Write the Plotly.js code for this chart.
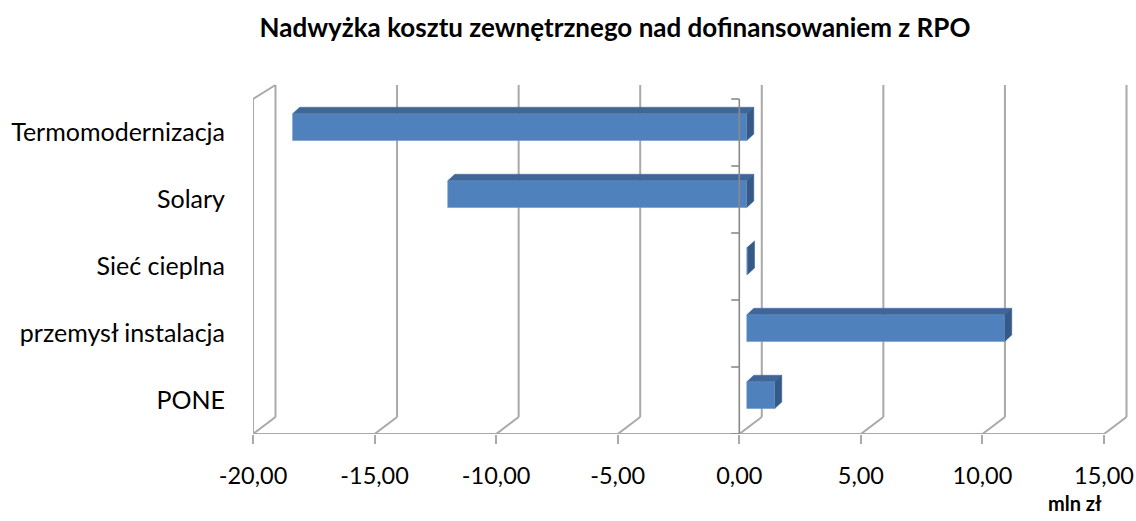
<!DOCTYPE html>
<html>
<head>
<meta charset="utf-8">
<script src="https://cdn.plot.ly/plotly-3.0.1.min.js"></script>
<style>html,body{margin:0;padding:0;background:#fff;}#chart{width:1136px;height:521px;}</style>
</head>
<body>
<div id="chart"></div>
<script>
// ---- data ----
const categories = ['Termomodernizacja', 'Solary', 'Sieć cieplna', 'przemysł instalacja', 'PONE'];
const values = [-18.68, -12.3, 0.03, 10.61, 1.15];
const tickValues = [-20, -15, -10, -5, 0, 5, 10, 15];
const tickLabels = ['-20,00', '-15,00', '-10,00', '-5,00', '0,00', '5,00', '10,00', '15,00'];
const chartTitle = 'Nadwyżka kosztu zewnętrznego nad dofinansowaniem z RPO';
const axisUnit = 'mln zł';

// ---- geometry / style ----
const W = 1136, H = 521;
const M = {l: 253, r: 6, t: 80, b: 87};
const FONT = 'Lato, "Open Sans", sans-serif';
const xMin = tickValues[0], xMaxTick = tickValues[tickValues.length - 1];
const frontRightPx = 1104;
const pxPerUnit = (frontRightPx - M.l) / (xMaxTick - xMin);
const plotW = W - M.l - M.r, plotH = H - M.t - M.b;
const xMax = xMin + plotW / pxPerUnit;
const nCat = categories.length;
const catPx = 67;
const yBottom = nCat - 0.5;
const yTopRange = yBottom - plotH / catPx;
const px2x = p => p / pxPerUnit;
const px2y = p => p / catPx;

const backDX = px2x(22.5);
const backTopY = -0.5 - px2y(14);
const backBotY = yBottom - px2y(17);
const barShift = px2x(7.5);       // bar front face offset from front plane
const barDX = px2x(7), barDY = px2y(6.5);
const barW = 0.40, barCenterOff = -0.08;
const gridColor = '#a9a9a9';
const axisColor = '#8a8a8a';

const shapes = [];
const line = (x0, y0, x1, y1, color, width, layer) => shapes.push({
  type: 'line', xref: 'x', yref: 'y', x0, y0, x1, y1, layer: layer || 'below',
  line: {color, width}
});
tickValues.forEach(v => {
  line(v + backDX, backTopY, v + backDX, backBotY, gridColor, 2);
  line(v, yBottom, v + backDX, backBotY, gridColor, 2);
});
// left wall front edge and top
line(xMin, -0.5, xMin, yBottom, gridColor, 2);
line(xMin, -0.5, xMin + backDX, backTopY, gridColor, 2);
// front floor edge
line(xMin, yBottom, xMaxTick, yBottom, gridColor, 2);
// category axis at 0 in front plane
line(0, -0.5, 0, yBottom, axisColor, 1.6, 'above');
for (let i = 0; i <= nCat; i++) {
  line(0, i - 0.5, -px2x(8), i - 0.5, axisColor, 1.6, 'above');
}

// bar faces
const idx = categories.map((_, i) => i);
const topX = [], topY = [], sideX = [], sideY = [];
values.forEach((v, i) => {
  const x0 = Math.min(0, v), x1 = Math.max(0, v);
  const yT = i + barCenterOff - barW / 2, yB = yT + barW;
  topX.push(x0, x0 + barDX, x1 + barDX, x1, null);
  topY.push(yT, yT - barDY, yT - barDY, yT, null);
  sideX.push(x1, x1 + barDX, x1 + barDX, x1, null);
  sideY.push(yT, yT - barDY, yB - barDY, yB, null);
});

const traces = [
  {type: 'bar', orientation: 'h', x: values, y: idx, xaxis: 'x2', yaxis: 'y',
   width: barW, offset: barCenterOff - barW / 2,
   marker: {color: '#4f81bd', line: {color: '#6f97cc', width: 0.6}}, hoverinfo: 'x'},
  {type: 'scatter', mode: 'lines', x: topX, y: topY, xaxis: 'x2', yaxis: 'y', fill: 'toself',
   fillcolor: '#3f6699', line: {width: 0.5, color: '#3f6699'}, connectgaps: false, hoverinfo: 'skip'},
  {type: 'scatter', mode: 'lines', x: sideX, y: sideY, xaxis: 'x2', yaxis: 'y', fill: 'toself',
   fillcolor: '#355a88', line: {width: 0.5, color: '#355a88'}, connectgaps: false, hoverinfo: 'skip'}
];

const layout = {
  width: W, height: H, margin: M,
  paper_bgcolor: '#ffffff', plot_bgcolor: 'rgba(0,0,0,0)',
  showlegend: false,
  font: {family: FONT, size: 24, color: '#000'},
  title: {text: '<b>' + chartTitle + '</b>', font: {family: FONT, size: 26, color: '#000'},
          xref: 'paper', x: (615 - M.l) / plotW, xanchor: 'center', yref: 'container', y: 1 - 28 / H, yanchor: 'middle'},
  xaxis: {range: [xMin, xMax], tickvals: tickValues, ticktext: tickLabels, ticks: 'outside', ticklen: 9,
          tickcolor: gridColor, tickwidth: 2, showgrid: false, zeroline: false, showline: false,
          ticklabelstandoff: 12,
          tickfont: {family: FONT, size: 23.5, color: '#000'}, fixedrange: true},
  xaxis2: {range: [xMin - barShift, xMax - barShift], overlaying: 'x', visible: false, fixedrange: true},
  yaxis: {range: [yBottom, yTopRange], tickvals: idx, ticktext: categories, showgrid: false, zeroline: false,
          showline: false, ticks: '', ticklabelstandoff: 27, tickfont: {family: FONT, size: 25, color: '#000'}, fixedrange: true},
  shapes: shapes,
  annotations: [{text: '<b>' + axisUnit + '</b>', xref: 'paper', yref: 'paper', x: (1075 - M.l) / plotW, y: -(503 - (H - M.b)) / plotH,
                 xanchor: 'center', yanchor: 'middle', showarrow: false, font: {family: FONT, size: 20, color: '#000'}}],
  bargap: 0
};
Plotly.newPlot('chart', traces, layout, {displayModeBar: false, staticPlot: true});
</script>
</body>
</html>
